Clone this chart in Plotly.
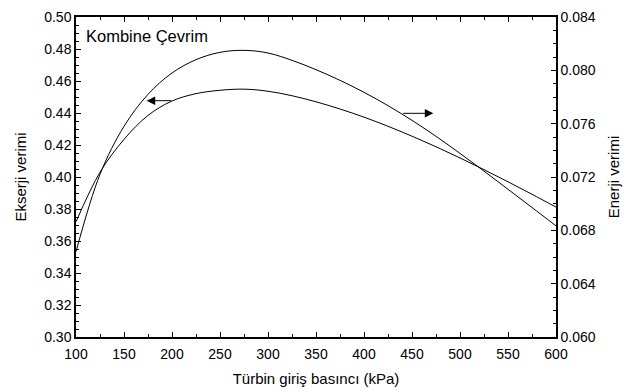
import plotly.graph_objects as go

pressure = [100, 125, 150, 175, 200, 225, 250, 275, 300, 325, 350, 375, 400, 425, 450, 475, 500, 525, 550, 575, 600]
ekserji = [0.3720, 0.4030, 0.4235, 0.4385, 0.4475, 0.4521, 0.4542, 0.4549, 0.4536, 0.4508, 0.4470,
           0.4425, 0.4374, 0.4317, 0.4255, 0.4189, 0.4119, 0.4046, 0.3970, 0.3892, 0.3812]
enerji = [0.06640, 0.07220, 0.07580, 0.07820, 0.07980, 0.08080, 0.08135, 0.08150, 0.08130, 0.08075,
          0.08005, 0.07925, 0.07835, 0.07735, 0.07625, 0.07505, 0.07377, 0.07244, 0.07108, 0.06971, 0.06834]

x_ticks = [100, 150, 200, 250, 300, 350, 400, 450, 500, 550, 600]
y_ticks = [0.30, 0.32, 0.34, 0.36, 0.38, 0.40, 0.42, 0.44, 0.46, 0.48, 0.50]
y2_ticks = [0.060, 0.064, 0.068, 0.072, 0.076, 0.080, 0.084]

FONT = "Liberation Sans, Arial, sans-serif"

fig = go.Figure()
fig.add_trace(go.Scatter(x=pressure, y=ekserji, mode="lines", line=dict(color="black", width=1, shape="spline", smoothing=1.0),
                         showlegend=False, yaxis="y"))
fig.add_trace(go.Scatter(x=pressure, y=enerji, mode="lines", line=dict(color="black", width=1, shape="spline", smoothing=1.0),
                         showlegend=False, yaxis="y2"))

axis_common = dict(showline=True, linecolor="black", linewidth=1.5, ticks="inside", ticklen=5, tickwidth=1,
                   tickcolor="black", showgrid=False, zeroline=False, automargin=False,
                   tickfont=dict(family=FONT, size=14, color="black"))

fig.update_layout(
    width=632, height=391,
    margin=dict(l=76, r=76, t=17, b=54),
    paper_bgcolor="white", plot_bgcolor="white",
    font=dict(family=FONT, size=14, color="black"),
    xaxis=dict(range=[100, 600], tickvals=x_ticks, mirror="ticks", ticklabelstandoff=3,
               minor=dict(dtick=25, ticks="inside", ticklen=3, tickcolor="black"),
               title=dict(text="Türbin giriş basıncı (kPa)", font=dict(family=FONT, size=15), standoff=13),
               **axis_common),
    yaxis=dict(range=[0.30, 0.50], tickvals=y_ticks, tickformat=".2f",
               minor=dict(dtick=0.005, ticks="inside", ticklen=3, tickcolor="black"),
               title=dict(text="Ekserji verimi", font=dict(family=FONT, size=15), standoff=14),
               **axis_common),
    yaxis2=dict(range=[0.060, 0.084], tickvals=y2_ticks, tickformat=".3f", overlaying="y", side="right",
                minor=dict(dtick=0.001, ticks="inside", ticklen=3, tickcolor="black"),
                title=dict(text="Enerji verimi", font=dict(family=FONT, size=15), standoff=14),
                **axis_common),
    annotations=[
        dict(text="Kombine Çevrim", x=0.016, y=0.975, xref="paper", yref="paper", xanchor="left", yanchor="top",
             showarrow=False, font=dict(family=FONT, size=16.5, color="black")),
        dict(x=173.6, y=0.4477, ax=200.7, ay=0.4477, xref="x", yref="y", axref="x", ayref="y",
             showarrow=True, arrowhead=2, arrowsize=1.7, arrowwidth=1, arrowcolor="black", text=""),
        dict(x=472.2, y=0.4398, ax=439.3, ay=0.4398, xref="x", yref="y", axref="x", ayref="y",
             showarrow=True, arrowhead=2, arrowsize=1.7, arrowwidth=1, arrowcolor="black", text=""),
    ],
)

fig.write_html("out.html")
